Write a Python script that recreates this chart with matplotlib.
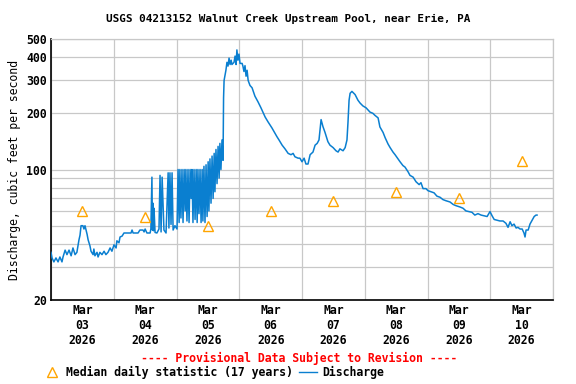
import matplotlib
matplotlib.use("Agg")
import matplotlib.pyplot as plt
import matplotlib.dates as mdates
from matplotlib.lines import Line2D
from matplotlib.ticker import FixedLocator, NullFormatter, FixedFormatter
import pandas as pd

plt.rcParams["font.family"] = ["DejaVu Sans Mono"]
plt.rcParams["font.weight"] = "bold"

# discharge, hours after 2026-03-03 00:00 and cfs
hours = [
    0.0, 0.4, 1.1, 1.9, 2.7, 3.4, 4.2, 4.6, 5.4, 6.1, 6.9, 7.7, 8.4, 9.2, 9.9,
    10.7, 11.1, 11.5, 12.2, 12.6, 13.0, 13.4, 13.8, 14.2, 14.9, 15.3, 16.1,
    16.4, 16.8, 17.6, 18.0, 18.7, 19.5, 20.3, 21.0, 21.8, 22.6, 23.3, 24.1,
    24.9, 25.2, 26.0, 26.4, 27.2, 27.9, 30.6, 31.0, 31.4, 33.3, 34.0, 35.2,
    35.6, 36.0,
    36.7, 37.9, 38.2, 38.6, 38.8, 39.0, 39.2, 39.4, 39.8, 40.5, 41.3, 41.7,
    42.1, 42.5, 42.8, 43.2, 44.0, 44.8, 45.1, 45.5, 45.9, 46.3, 46.7, 47.4,
    48.2,
    48.6, 49.0, 49.3, 49.7, 50.1, 50.5, 50.9, 51.3, 51.6, 52.0, 52.4, 52.8,
    53.2, 53.6, 53.9, 54.3, 54.7, 55.1, 55.5, 55.9, 56.2, 56.6, 57.0, 57.4,
    57.8, 58.1, 58.5, 58.9, 59.3, 59.7, 60.1, 60.4, 60.8, 61.2, 61.6, 62.0,
    62.4, 62.7, 63.1, 63.5, 63.9, 64.3, 64.6, 65.0, 65.4, 65.8,
    66.0, 66.2, 66.9, 67.3, 67.7, 68.1, 68.5, 68.9, 69.2, 70.0, 70.4, 70.8,
    71.1, 71.5, 71.9, 72.3, 73.1, 73.4, 73.8, 74.2, 74.6, 75.0, 75.4, 76.1,
    76.9, 78.0, 79.2, 80.3, 81.9, 83.0, 84.5, 85.7, 86.4, 87.2, 88.4, 89.5,
    90.7, 91.8, 92.6, 93.3, 94.5, 95.2, 96.0, 96.8, 97.5, 98.3, 99.1, 100.2,
    101.0, 101.8, 102.5, 103.3, 104.0, 104.8, 105.9, 106.7, 107.9, 109.0,
    109.8, 110.5, 111.7, 112.5, 113.2, 113.6, 114.0, 114.4, 115.1, 116.3,
    117.4, 118.2, 119.3, 120.5, 122.0, 123.1, 123.9, 125.1, 125.8, 127.0,
    127.8, 128.9, 129.7, 130.8, 131.6, 132.7, 133.5, 134.6, 135.4, 136.6,
    137.3, 138.5, 139.6, 140.8, 141.5, 142.3, 143.4, 144.2, 145.4, 146.5,
    147.6, 148.8, 149.9, 151.1, 152.6, 153.8, 154.9, 156.4, 157.6, 158.7,
    159.9, 161.0, 162.1, 163.3, 164.5, 165.6, 166.8, 167.9, 168.7, 169.5,
    170.6, 171.7, 172.9, 174.0, 174.8, 175.6, 176.3, 177.1, 177.9, 178.6,
    179.4, 180.2, 180.9, 181.3, 181.7, 182.5, 183.2, 184.0, 184.8, 185.5,
    185.9,
]
discharge = [
    36, 33.6, 32, 33.6, 32, 34, 32, 34, 37, 35, 37, 34.5, 38, 35, 36,
    42, 44.5, 50, 50, 48, 50, 47.5, 45, 42, 39, 36.5, 35,
    37.5, 34.5, 36, 34, 36, 35, 36.5, 35, 36, 38, 36.5, 39.5,
    38, 41.5, 40.5, 43.5, 44, 45.7, 45.7, 47.4, 45.7, 45.7, 47.4, 47.4,
    46.3, 48,
    45.7, 45.7, 48, 91, 47.4, 66, 47, 62, 46, 45.7, 48, 93,
    46.3, 91, 68, 47.4, 45.7, 96, 48.6, 96, 50.8, 96, 47.4, 50,
    48,
    100, 52, 100, 55, 100, 52, 100, 60, 100, 53, 100, 52,
    100, 70, 100, 52, 100, 54, 100, 52, 100, 58, 100, 52,
    100, 53, 104, 52, 106, 56, 110, 60, 114, 66, 118, 70,
    122, 76, 128, 84, 133, 90, 138, 100, 144, 112,
    242, 300, 340, 375, 358, 395, 365, 385, 365, 375, 405, 365,
    437, 385, 415, 370, 370, 358, 335, 360, 316, 340, 300, 282,
    274, 247, 230, 214, 191, 180, 167, 156, 150, 144, 135, 129,
    122, 120, 122, 117, 115, 115, 110, 115, 107, 107, 120, 124,
    135, 138, 144, 185, 170, 158, 141, 135, 131, 126,
    124, 129, 126, 131, 144, 180, 235, 256, 262, 252,
    235, 227, 219, 214, 203, 200, 195, 189, 169, 158,
    148, 137, 131, 124, 120, 114, 110, 105, 103, 97,
    93, 91, 86, 83, 85, 79, 79, 77, 76, 75,
    72, 71, 69, 68, 67, 65, 64, 63, 62, 60,
    59.5, 59, 57, 58, 57, 56.5, 56, 59.5, 56.5, 54,
    53.5, 53, 53, 51.5, 49, 52.5, 50, 51, 48.6, 49,
    48, 48, 45.7, 43.5, 47.4, 47.4, 51, 53.5, 56, 57,
    57,
]

# median daily statistic at noon of each day
median_hours = [12, 36, 60, 84, 108, 132, 156, 180]
median_cfs = [60, 56, 50, 60, 68, 76, 70, 111]

y_major = [20, 100, 200, 300, 400, 500]
y_minor = [30, 40, 50, 60, 70, 80, 90]

base = pd.Timestamp("2026-03-03")
t = base + pd.to_timedelta(hours, unit="h")
tm = base + pd.to_timedelta(median_hours, unit="h")

grid_c = "#c8c8c8"
blue = "#0a7fd0"
orange = "#ffa500"

fig = plt.figure(figsize=(5.76, 3.84), dpi=100)
ax = fig.add_axes([51 / 576, 1 - 300 / 384, 502 / 576, 261 / 384])

ax.plot(t, discharge, color=blue, lw=1.1, zorder=3)
ax.plot(tm, median_cfs, linestyle="none", marker="^", ms=7, mfc="none",
        mec=orange, mew=1.0, zorder=4)

ax.set_yscale("log")
ax.set_ylim(20, 500)
ax.yaxis.set_major_locator(FixedLocator(y_major))
ax.yaxis.set_major_formatter(FixedFormatter([str(v) for v in y_major]))
ax.yaxis.set_minor_locator(FixedLocator(y_minor))
ax.yaxis.set_minor_formatter(NullFormatter())

ax.set_xlim(base, base + pd.Timedelta(days=8))
ax.xaxis.set_major_locator(mdates.HourLocator(byhour=12))
ax.xaxis.set_major_formatter(mdates.DateFormatter("%b\n%d\n%Y"))
ax.xaxis.set_minor_locator(mdates.DayLocator())

ax.grid(which="both", axis="y", color=grid_c, lw=0.9, zorder=0)
ax.grid(which="minor", axis="x", color=grid_c, lw=0.9, zorder=0)
ax.grid(which="major", axis="x", visible=False)
ax.set_axisbelow(True)

ax.tick_params(which="both", length=0, labelsize=8.3, pad=3)
for s in ["top", "right"]:
    ax.spines[s].set_color(grid_c)
    ax.spines[s].set_linewidth(0.9)
for s in ["left", "bottom"]:
    ax.spines[s].set_color("black")
    ax.spines[s].set_linewidth(1.2)

ax.set_ylabel("Discharge, cubic feet per second", fontsize=8.3, labelpad=4)

fig.text(0.5, 1 - 19 / 384, "USGS 04213152 Walnut Creek Upstream Pool, near Erie, PA",
         ha="center", va="center", fontsize=7.9)
fig.text(0.52, 1 - 358 / 384, "---- Provisional Data Subject to Revision ----",
         ha="center", va="center", fontsize=8.3, color="red")

handles = [
    Line2D([], [], linestyle="none", marker="^", ms=7, mfc="none", mec=orange, mew=1.0),
    Line2D([], [], color=blue, lw=1.0),
]
fig.legend(handles, ["Median daily statistic (17 years)", "Discharge"],
           loc="center left", bbox_to_anchor=(0.075, 1 - 372 / 384), ncol=2,
           frameon=False, fontsize=8.3, handlelength=1.6, handletextpad=0.4,
           columnspacing=0.5, borderaxespad=0, borderpad=0)

fig.savefig("out.png", dpi=100)
